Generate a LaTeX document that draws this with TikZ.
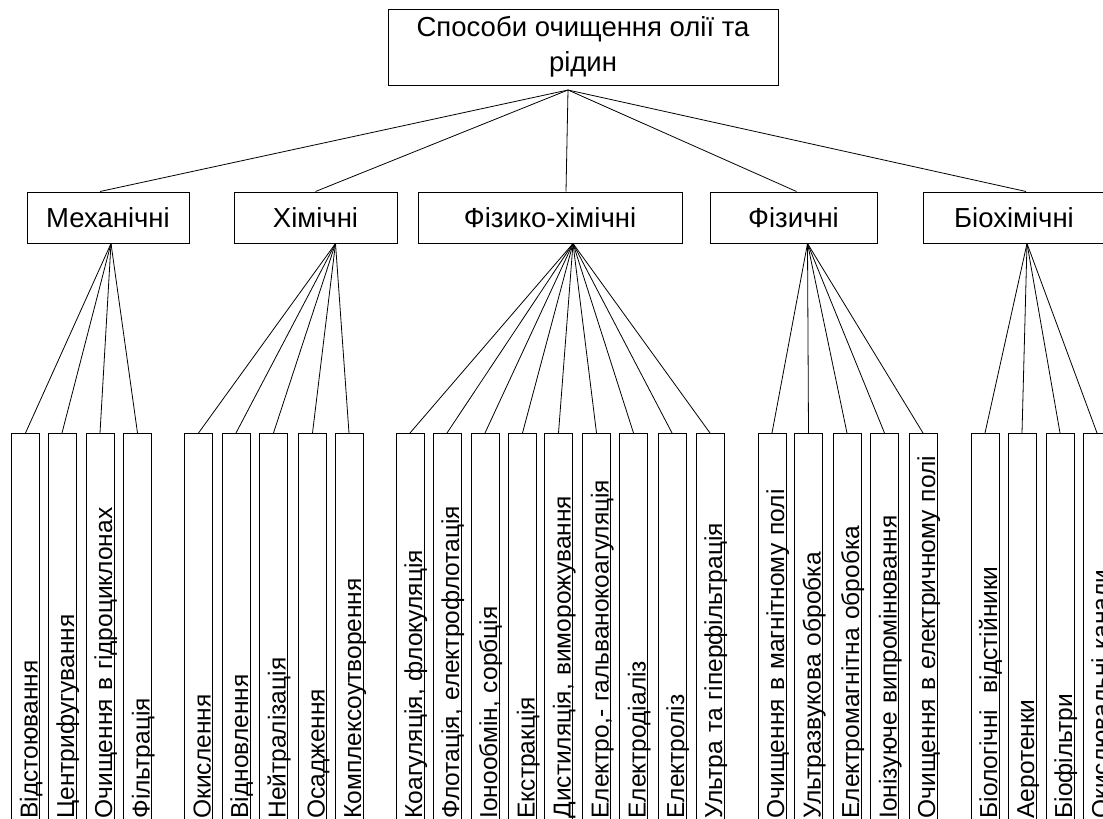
\documentclass[tikz,border=0pt]{standalone}
\usepackage{fontspec}
\setmainfont{Liberation Sans}
\usepackage{tikz}

\tikzset{
  rootbox/.style={draw, line width=1pt, minimum width=390pt, minimum height=76pt,
    align=center, font=\fontsize{27.5}{35}\selectfont},
  groupbox/.style={draw, line width=1pt, minimum height=51pt,
    font=\fontsize{27.5}{32}\selectfont},
  leafbox/.style={draw, line width=1pt, rotate=90, anchor=east,
    text width=383pt, align=left, inner xsep=2pt, inner ysep=2pt,
    text height=24pt, text depth=0pt, font=\fontsize{24.5}{29}\selectfont},
  link/.style={line width=0.8pt}
}

\begin{document}
\begin{tikzpicture}[x=1pt, y=-1pt]
                \useasboundingbox (0,0) rectangle (1103,819);
                \clip (0,0) rectangle (1103,819);

                %% root
                \node[rootbox] (root) at (583,47) {Способи очищення олії та\\рідин};
                \coordinate (rootB) at (568,90);

                %% groups
                \node[groupbox, minimum width=162pt] (mech)  at (108,217.5)   {Механічні};
                \node[groupbox, minimum width=163pt] (chem)  at (315.5,217.5) {Хімічні};
                \node[groupbox, minimum width=264pt] (phch)  at (550,217.5)   {Фізико-хімічні};
                \node[groupbox, minimum width=167pt] (phys)  at (793.5,217.5) {Фізичні};
                \node[groupbox, minimum width=182pt] (bioch) at (1014,217.5)  {Біохімічні};

                \draw[link] (rootB) -- ([xshift=-8pt]mech.north);
                \draw[link] (rootB) -- (chem.north);
                \draw[link] (rootB) -- ([xshift=16pt]phch.north);
                \draw[link] (rootB) -- ([xshift=3pt]phys.north);
                \draw[link] (rootB) -- ([xshift=12pt]bioch.north);

                \coordinate (mechB)  at ([xshift=3pt]mech.south);
                \coordinate (chemB)  at ([xshift=20pt]chem.south);
                \coordinate (phchB)  at ([xshift=23pt]phch.south);
                \coordinate (physB)  at ([xshift=14pt]phys.south);
                \coordinate (biochB) at ([xshift=13pt]bioch.south);

                %% mechanical
                \node[leafbox] (m1) at (25.5,433)  {Відстоювання};
                \node[leafbox] (m2) at (62,433)    {Центрифугування};
                \node[leafbox] (m3) at (100,433)   {Очищення в гідроциклонах};
                \node[leafbox] (m4) at (137.5,433) {Фільтрація};
                \draw[link] (mechB) -- (m1.east);
                \draw[link] (mechB) -- (m2.east);
                \draw[link] (mechB) -- (m3.east);
                \draw[link] (mechB) -- (m4.east);

                %% chemical
                \node[leafbox] (c1) at (198.5,433) {Окислення};
                \node[leafbox] (c2) at (236,433)   {Відновлення};
                \node[leafbox] (c3) at (273.5,433) {Нейтралізація};
                \node[leafbox] (c4) at (312.5,433) {Осадження};
                \node[leafbox] (c5) at (349,433)   {Комплексоутворення};
                \draw[link] (chemB) -- (c1.east);
                \draw[link] (chemB) -- (c2.east);
                \draw[link] (chemB) -- (c3.east);
                \draw[link] (chemB) -- (c4.east);
                \draw[link] (chemB) -- (c5.east);

                %% physico-chemical
                \node[leafbox] (p1) at (410,433)   {Коагуляція, флокуляція};
                \node[leafbox] (p2) at (447,433)   {Флотація, електрофлотація};
                \node[leafbox] (p3) at (485,433)   {Іонообмін, сорбція};
                \node[leafbox] (p4) at (522.5,433) {Екстракція};
                \node[leafbox] (p5) at (558.5,433) {Дистиляція, виморожування};
                \node[leafbox] (p6) at (596.5,433) {Електро,- гальванокоагуляція};
                \node[leafbox] (p7) at (633.5,433) {Електродіаліз};
                \node[leafbox] (p8) at (672,433)   {Електроліз};
                \node[leafbox] (p9) at (710,433)   {Ультра та гіперфільтрація};
                \draw[link] (phchB) -- (p1.east);
                \draw[link] (phchB) -- (p2.east);
                \draw[link] (phchB) -- (p3.east);
                \draw[link] (phchB) -- (p4.east);
                \draw[link] (phchB) -- (p5.east);
                \draw[link] (phchB) -- (p6.east);
                \draw[link] (phchB) -- (p7.east);
                \draw[link] (phchB) -- (p8.east);
                \draw[link] (phchB) -- (p9.east);

                %% physical
                \node[leafbox] (f1) at (772,433)   {Очищення в магнітному полі};
                \node[leafbox] (f2) at (808.5,433) {Ультразвукова обробка};
                \node[leafbox] (f3) at (847,433)   {Електромагнітна обробка};
                \node[leafbox] (f4) at (884.5,433) {Іонізуюче випромінювання};
                \node[leafbox] (f5) at (923,433)   {Очищення в електричному полі};
                \draw[link] (physB) -- (f1.east);
                \draw[link] (physB) -- (f2.east);
                \draw[link] (physB) -- (f3.east);
                \draw[link] (physB) -- (f4.east);
                \draw[link] (physB) -- (f5.east);

                %% biochemical
                \node[leafbox] (b1) at (985,433)  {Біологічні~~відстійники};
                \node[leafbox] (b2) at (1022,433) {Аеротенки};
                \node[leafbox] (b3) at (1060,433) {Біофільтри};
                \node[leafbox] (b4) at (1097,433) {Окислювальні канали};
                \draw[link] (biochB) -- (b1.east);
                \draw[link] (biochB) -- (b2.east);
                \draw[link] (biochB) -- (b3.east);
                \draw[link] (biochB) -- (b4.east);

            \end{tikzpicture}
\end{document}
